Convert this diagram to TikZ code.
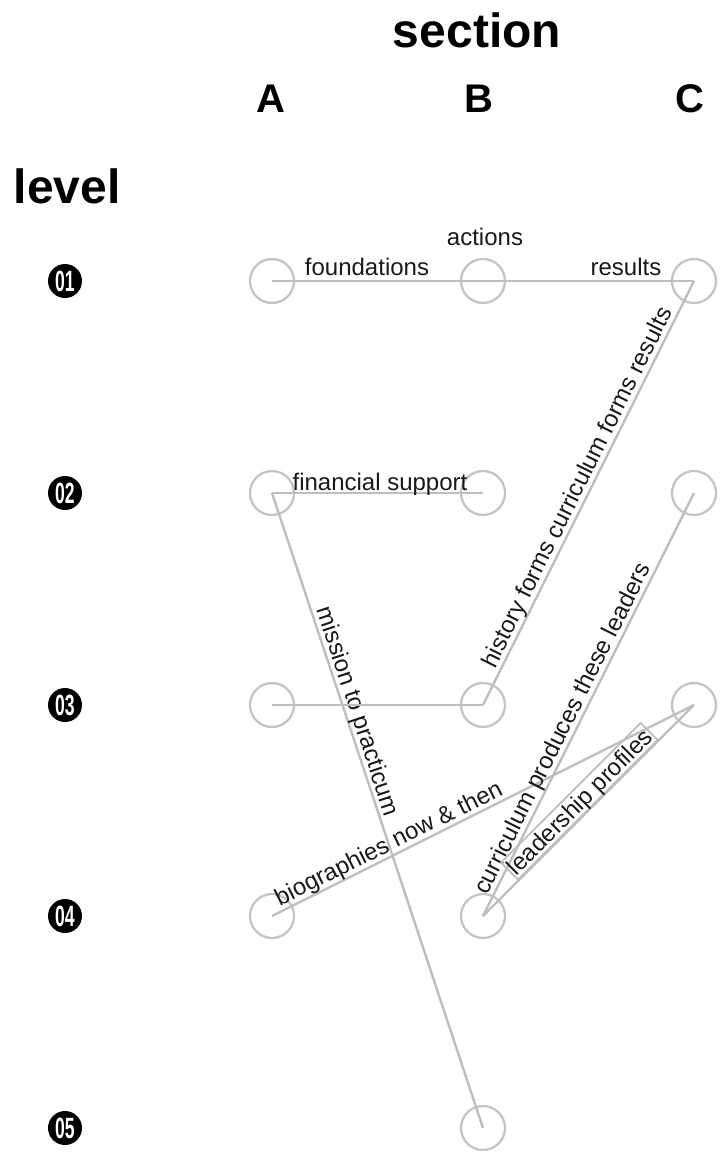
\documentclass[tikz,border=0pt]{standalone}
\usepackage{fontspec}
\setmainfont{Liberation Sans}
\usepackage{graphicx}
\definecolor{edgegray}{RGB}{190,190,190}
\definecolor{ringgray}{RGB}{196,196,196}
\definecolor{labelgray}{RGB}{25,25,25}
\begin{document}
\begin{tikzpicture}[x=0.75pt,y=-0.75pt,
  ring/.style={circle, draw=ringgray, line width=1.7pt, minimum size=33pt, inner sep=0pt},
  conn/.style={draw=edgegray, line width=1.8pt},
  elabel/.style={font=\fontsize{18}{20}\selectfont, text=labelgray, inner sep=0pt, text depth=0pt},
  slab/.style={elabel, sloped, above=3pt},
  framelab/.style={elabel, sloped, above=0pt, draw=edgegray, line width=1.4pt, inner xsep=1pt, inner ysep=2.5pt},
  head/.style={font=\bfseries\fontsize{36}{40}\selectfont, anchor=base},
  colhead/.style={font=\bfseries\fontsize{30}{34}\selectfont, anchor=base},
  lvl/.style={circle, fill=black, minimum size=25.5pt, inner sep=0pt, text=white, font=\bfseries\fontsize{22}{22}\selectfont}
]
\useasboundingbox (0,0) rectangle (720,1154);

% headers
\node[head] (sec) at (477,47) {section};
\node[colhead] (hA) at (271,112) {A};
\node[colhead] (hB) at (479,112) {B};
\node[colhead] (hC) at (690,112) {C};
\node[head, anchor=base west] (lev) at (9,203) {level};

% level markers
\node[lvl] (L1) at (65,281) {\scalebox{0.6}[1]{01}};
\node[lvl] (L2) at (65,493) {\scalebox{0.6}[1]{02}};
\node[lvl] (L3) at (65,705) {\scalebox{0.6}[1]{03}};
\node[lvl] (L4) at (65,916) {\scalebox{0.6}[1]{04}};
\node[lvl] (L5) at (65,1128) {\scalebox{0.6}[1]{05}};

% rings
\node[ring] (A1) at (272,281) {};
\node[ring] (B1) at (483,281) {};
\node[ring] (C1) at (694,281) {};
\node[ring] (A2) at (272,493) {};
\node[ring] (B2) at (483,493) {};
\node[ring] (C2) at (694,493) {};
\node[ring] (A3) at (272,705) {};
\node[ring] (B3) at (483,705) {};
\node[ring] (C3) at (694,705) {};
\node[ring] (A4) at (272,916) {};
\node[ring] (B4) at (483,916) {};
\node[ring] (B5) at (483,1128) {};

% connectors
\draw[conn] (A1.center) -- (C1.center);
\node[elabel, anchor=base] (fnd) at (367,275) {foundations};
\node[elabel, anchor=base] (act) at (485,245) {actions};
\node[elabel, anchor=base] (res) at (626,275) {results};

\draw[conn] (B3.center) -- node[slab, midway] (hist) {history forms curriculum forms results} (C1.center);

\draw[conn] (A2.center) -- (B2.center);
\node[elabel, anchor=base] (fin) at (380,490) {financial support};

\draw[conn] (A2.center) -- node[slab, pos=0.35] (mis) {mission to practicum} (B5.center);

\draw[conn] (A3.center) -- (B3.center);

\draw[conn] (A4.center) -- node[slab, pos=0.29] (bio) {biographies now \& then} (C3.center);

\draw[conn] (B4.center) -- node[slab, pos=0.43] (cur) {curriculum produces these leaders} (C2.center);

\draw[conn] (B4.center) -- node[framelab, midway] (lead) {leadership profiles} (C3.center);
\end{tikzpicture}
\end{document}
